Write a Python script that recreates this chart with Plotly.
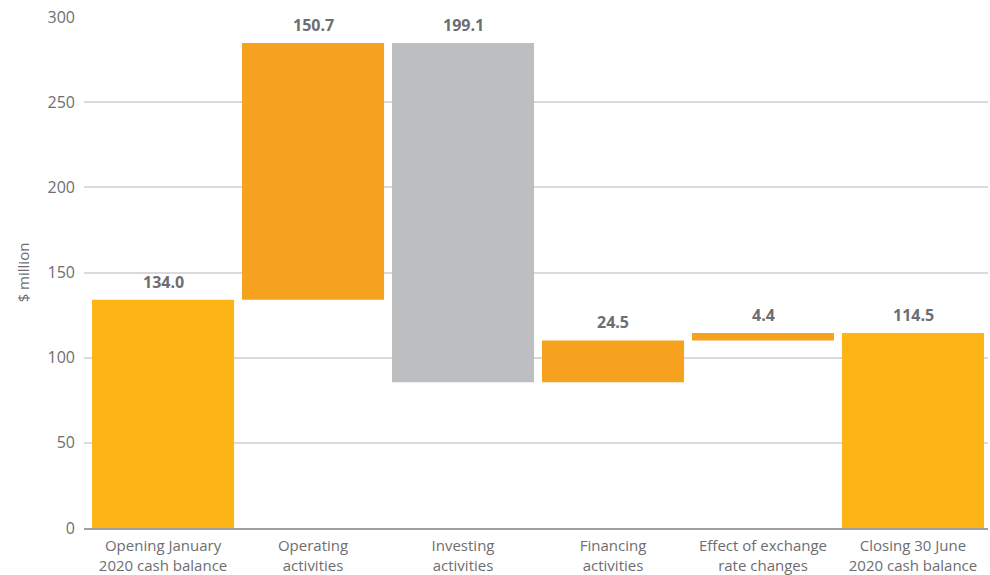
import plotly.graph_objects as go

# Cash flow bridge, $ million
categories = [
    "Opening January<br>2020 cash balance",
    "Operating<br>activities",
    "Investing<br>activities",
    "Financing<br>activities",
    "Effect of exchange<br>rate changes",
    "Closing 30 June<br>2020 cash balance",
]
opening_balance = 134.0
movements = [150.7, -199.1, 24.5, 4.4]

TOTAL_COLOR = "#FDB515"
UP_COLOR = "#F7A21F"
DOWN_COLOR = "#BDBEC0"
TEXT_COLOR = "#6D6E71"

# Build floating bars: base + height for each step
bases, heights, colors, labels = [], [], [], []
bases.append(0)
heights.append(opening_balance)
colors.append(TOTAL_COLOR)
labels.append(opening_balance)

running = opening_balance
for m in movements:
    if m >= 0:
        bases.append(running)
        heights.append(m)
        colors.append(UP_COLOR)
    else:
        bases.append(running + m)
        heights.append(-m)
        colors.append(DOWN_COLOR)
    labels.append(abs(m))
    running += m

closing_balance = round(running, 1)
bases.append(0)
heights.append(closing_balance)
colors.append(TOTAL_COLOR)
labels.append(closing_balance)

x_idx = list(range(len(categories)))

fig = go.Figure(
    go.Bar(
        x=x_idx,
        y=heights,
        base=bases,
        marker=dict(color=colors, line=dict(width=0)),
        hoverinfo="skip",
    )
)

# Value labels above each bar
tops = [b + h for b, h in zip(bases, heights)]
for i, (top, val) in enumerate(zip(tops, labels)):
    fig.add_annotation(
        x=i, y=top, text=f"<b>{val:.1f}</b>", showarrow=False,
        yanchor="bottom", yshift=5,
        font=dict(family="Open Sans", size=16, color=TEXT_COLOR),
    )

fig.update_layout(
    width=990, height=575,
    margin=dict(l=84, r=2, t=17, b=47),
    paper_bgcolor="white", plot_bgcolor="white",
    bargap=0.053,
    showlegend=False,
    font=dict(family="Open Sans", color=TEXT_COLOR),
    xaxis=dict(
        range=[-0.527, 5.5], automargin=False,
        tickmode="array", tickvals=x_idx, ticktext=categories,
        showgrid=False, zeroline=False,
        showline=True, linecolor="#A0A0A0", linewidth=2,
        ticks="", ticklabelstandoff=3,
        tickfont=dict(size=15, color=TEXT_COLOR),
    ),
    yaxis=dict(
        range=[0, 300], tickvals=[0, 50, 100, 150, 200, 250, 300],
        automargin=False,
        showgrid=True, gridcolor="#DADADA", gridwidth=1.5,
        zeroline=False, ticks="", ticklabelstandoff=8,
        tickfont=dict(size=16, color=TEXT_COLOR),
        title=dict(text="$ million", font=dict(size=15, color=TEXT_COLOR), standoff=14),
    ),
)

fig.write_html("out.html")
